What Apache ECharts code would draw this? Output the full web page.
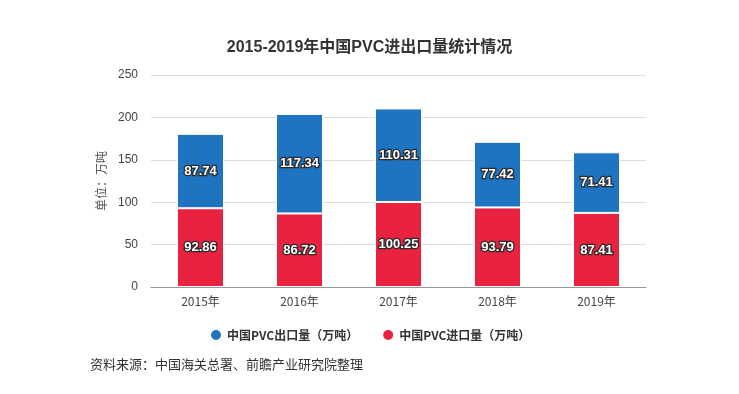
<!DOCTYPE html>
<html><head><meta charset="utf-8">
<script src="https://cdn.jsdelivr.net/npm/echarts@6/dist/echarts.min.js"></script>
<style>html,body{margin:0;padding:0;background:#fff;}#c{width:739px;height:394px;}</style>
</head><body><div id="c"></div>
<script>
const categories = ['2015年','2016年','2017年','2018年','2019年'];
const exportVals = [87.74, 117.34, 110.31, 77.42, 71.41];
const importVals = [92.86, 86.72, 100.25, 93.79, 87.41];
const yTicks = {min:0, max:250, interval:50};

const chart = echarts.init(document.getElementById('c'));
const labelStyle = {show:true, position:'inside', color:'#fff', fontWeight:'bold', fontSize:13,
  fontFamily:'Liberation Sans, Noto Sans CJK SC', textBorderColor:'#2a2a2a', textBorderWidth:2.5};
chart.setOption({
  animation:false,
  title:{text:'2015-2019年中国PVC进出口量统计情况', left:'center', top:35,
    textStyle:{fontSize:16, fontWeight:'bold', color:'#333', fontFamily:'Liberation Sans, Noto Sans CJK SC'}},
  legend:{top:323, left:204, icon:'circle', itemWidth:12, itemHeight:12, itemGap:23,
    textStyle:{fontSize:12, fontWeight:'bold', color:'#333', fontFamily:'Noto Sans CJK SC'},
    data:['中国PVC出口量（万吨）','中国PVC进口量（万吨）']},
  graphic:[{type:'text', left:90, top:358, style:{text:'资料来源：中国海关总署、前瞻产业研究院整理', fontSize:13, fill:'#333', fontFamily:'Noto Sans CJK SC'}}],
  grid:{left:151, right:93, top:75, bottom:107},
  xAxis:{type:'category', data:categories,
    axisLine:{lineStyle:{color:'#999'}}, axisTick:{alignWithLabel:true, lineStyle:{color:'#999'}},
    axisLabel:{color:'#444', fontSize:12, fontFamily:'Noto Sans CJK SC'}},
  yAxis:{type:'value', min:yTicks.min, max:yTicks.max, interval:yTicks.interval,
    name:'单位：万吨', nameLocation:'middle', nameGap:44, nameRotate:90,
    nameTextStyle:{color:'#555', fontSize:12, fontFamily:'Noto Sans CJK SC'},
    axisLine:{show:false}, axisTick:{show:false},
    axisLabel:{color:'#444', fontSize:12, margin:13},
    splitLine:{lineStyle:{color:'#ddd'}}},
  series:[
    {name:'中国PVC进口量（万吨）', type:'bar', stack:'a', data:importVals, barWidth:47,
      itemStyle:{color:'#e8223f', borderColor:'#fff', borderWidth:1}, label:labelStyle},
    {name:'中国PVC出口量（万吨）', type:'bar', stack:'a', data:exportVals, barWidth:47,
      itemStyle:{color:'#1f74c1', borderColor:'#fff', borderWidth:1}, label:labelStyle}
  ]
});
</script></body></html>
